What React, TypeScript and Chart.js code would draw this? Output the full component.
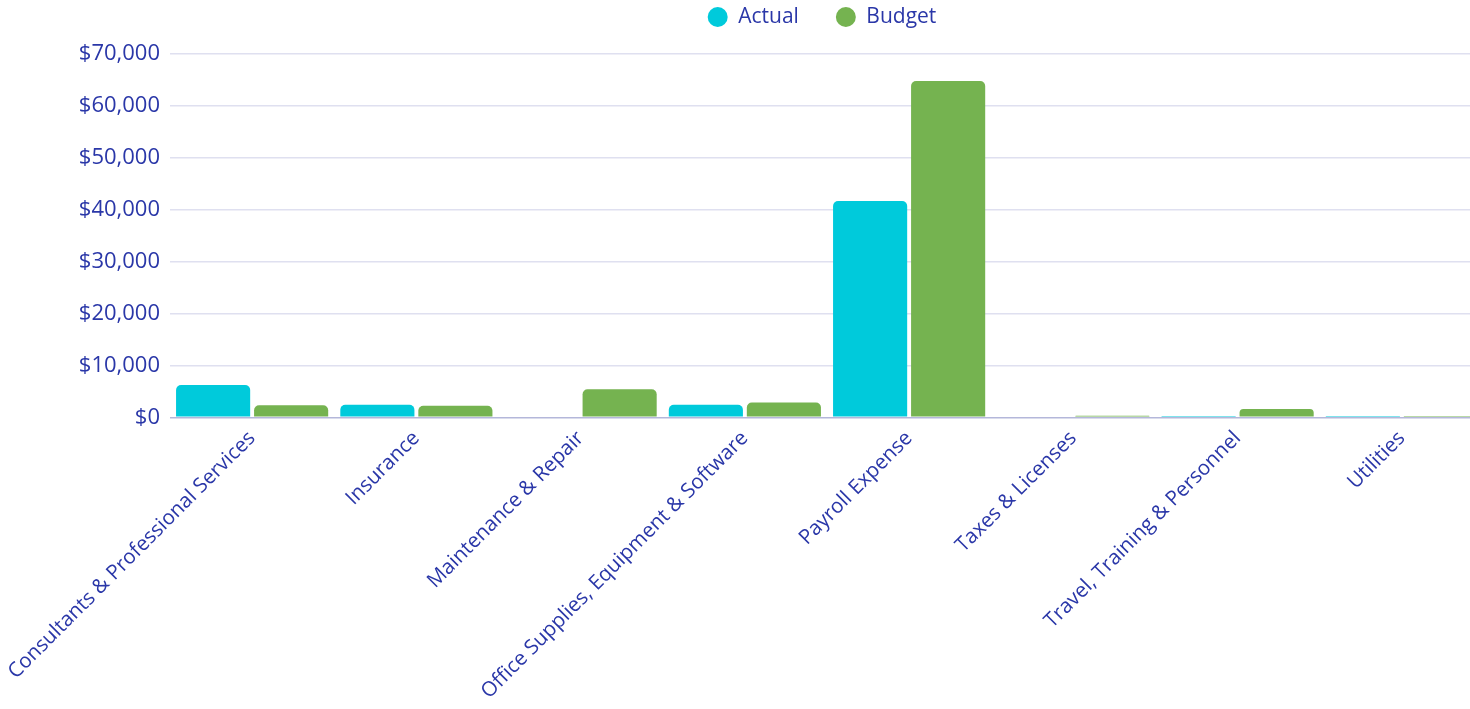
import React, { useEffect, useRef } from 'react';
import { Chart, registerables } from 'chart.js';

Chart.register(...registerables);

const categories = [
  'Consultants & Professional Services',
  'Insurance',
  'Maintenance & Repair',
  'Office Supplies, Equipment & Software',
  'Payroll Expense',
  'Taxes & Licenses',
  'Travel, Training & Personnel',
  'Utilities',
];
const actualValues = [6200, 2400, 0, 2400, 41600, 0, 80, 60];
const budgetValues = [2300, 2200, 5400, 2850, 64700, 300, 1600, 80];
const seriesNames = ['Actual', 'Budget'];
const yMax = 70000;
const yStep = 10000;

const TEXT = '#2A37A8';
const FONT = "'Open Sans', sans-serif";

export default function App() {
  const ref = useRef<HTMLCanvasElement | null>(null);

  useEffect(() => {
    if (!ref.current) return;
    const legendTweak = {
      id: 'legendTweak',
      beforeInit(chart: any) {
        const lg = chart.legend;
        if (!lg) return;
        const orig = lg.fit;
        lg.fit = function () {
          orig.call(this);
          this.height = 53.5;
        };
      },
      afterUpdate(chart: any) {
        const lg = chart.legend;
        if (!lg) return;
        const shift = 822 - (lg.left + lg.right) / 2;
        lg.left += shift;
        lg.right += shift;
        const pad = lg.options.labels.padding;
        lg.top = 6.5 - pad;
      },
    };
    const chart = new Chart(ref.current, {
      type: 'bar',
      data: {
        labels: categories,
        datasets: [
          {
            label: seriesNames[0],
            data: actualValues,
            backgroundColor: '#00CADB',
            borderRadius: 5,
            categoryPercentage: 0.95,
            barPercentage: 0.95,
          },
          {
            label: seriesNames[1],
            data: budgetValues,
            backgroundColor: '#75B350',
            borderRadius: 5,
            categoryPercentage: 0.95,
            barPercentage: 0.95,
          },
        ],
      },
      options: {
        animation: false,
        responsive: true,
        maintainAspectRatio: false,
        layout: { padding: 0 },
        plugins: {
          legend: {
            position: 'top',
            labels: {
              usePointStyle: true,
              pointStyle: 'circle',
              boxHeight: 14.14,
              pointStyleWidth: 20,
              padding: 37,
              color: TEXT,
              font: { family: FONT, size: 21 },
            },
          },
          tooltip: { enabled: false },
        },
        scales: {
          x: {
            grid: { display: false, drawTicks: false },
            border: { display: false },
            ticks: {
              autoSkip: false,
              minRotation: 45,
              maxRotation: 45,
              padding: 9,
              color: TEXT,
              font: { family: FONT, size: 20.5 },
            },
            afterFit(scale: any) {
              scale.height = 709 - 417.3;
              scale.paddingLeft = 0;
              scale.paddingRight = 0;
            },
          },
          y: {
            min: 0,
            max: yMax,
            border: { display: false },
            grid: {
              drawTicks: false,
              color: (ctx: any) => (ctx.tick && ctx.tick.value === 0 ? '#B4B7DA' : '#DFE0F0'),
              lineWidth: 1.5,
            },
            ticks: {
              stepSize: yStep,
              padding: 10,
              color: TEXT,
              font: { family: FONT, size: 22 },
              callback: (v: any) => '$' + Number(v).toLocaleString('en-US'),
            },
            afterFit(scale: any) {
              scale.width = 170;
            },
          },
        },
      },
      plugins: [legendTweak],
    });
    return () => chart.destroy();
  }, []);

  return (
    <div style={{ position: 'absolute', left: 0, top: 0, width: 1470, height: 709, overflow: 'hidden', background: '#fff' }}>
      <div style={{ position: 'relative', width: 1484, height: 709 }}>
        <canvas ref={ref} />
      </div>
    </div>
  );
}
